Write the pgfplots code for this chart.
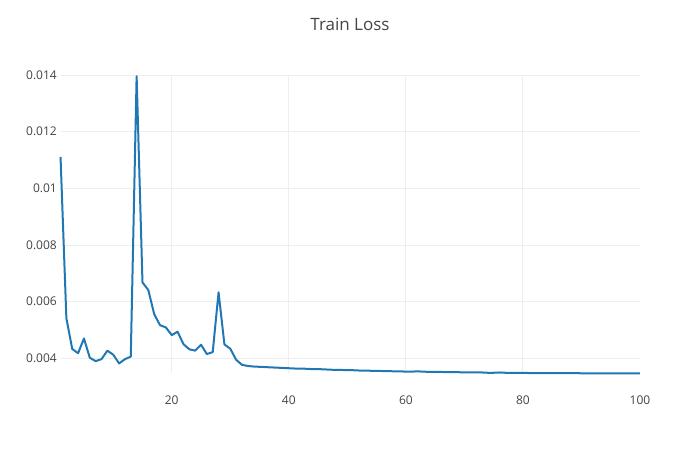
\documentclass[border=0pt]{standalone}
\usepackage{fontspec}
\setmainfont{Open Sans}
\usepackage{pgfplots}
\pgfplotsset{compat=1.18}
\definecolor{plotblue}{HTML}{1F77B4}
\definecolor{txt}{HTML}{444444}
\definecolor{gridc}{HTML}{EEEEEE}
\begin{document}
\begin{tikzpicture}[x=1pt,y=1pt]
\path[use as bounding box] (0,0) rectangle (525,337.5);
\node[anchor=base, text=txt, font=\fontsize{12.75}{15}\selectfont] at (262.5,314.6) {Train Loss};
\begin{axis}[
  at={(45.4pt,57.5pt)}, anchor=south west,
  scale only axis, width=434.6pt, height=223.7pt,
  xmin=1, xmax=100, ymin=0.00347, ymax=0.0140,
  axis line style={draw=none},
  xtick={20,40,60,80}, extra x ticks={100},
  extra x tick style={grid=none},
  ytick={0.004,0.006,0.008,0.010,0.012,0.014},
  yticklabels={0.004,0.006,0.008,0.01,0.012,0.014},
  scaled y ticks=false,
  xmajorgrids, ymajorgrids,
  major grid style={draw=gridc, line width=0.75pt},
  major tick length=0pt,
  /pgf/number format/assume math mode=true,
  tick label style={font=\fontsize{9}{11}\selectfont, text=txt},
  yticklabel style={anchor=east, inner sep=0pt, xshift=-2.6pt},
  xticklabel style={anchor=north, inner sep=0pt, yshift=-16.3pt},
  clip=false,
]
\addplot[plotblue, line width=1.5pt, line join=round, mark=none] table {
x y
1 0.01111
2 0.00541
3 0.00433
4 0.00418
5 0.00470
6 0.00402
7 0.00390
8 0.00397
9 0.00427
10 0.00413
11 0.00382
12 0.00397
13 0.00406
14 0.01396
15 0.00668
16 0.00641
17 0.00556
18 0.00517
19 0.00509
20 0.00482
21 0.00494
22 0.00450
23 0.00432
24 0.00427
25 0.00448
26 0.00415
27 0.00422
28 0.00633
29 0.00449
30 0.00434
31 0.00395
32 0.00377
33 0.00373
34 0.00371
35 0.00370
36 0.00369
37 0.00368
38 0.00367
39 0.00366
40 0.00365
41 0.00364
42 0.00364
43 0.00363
44 0.00362
45 0.00362
46 0.00361
47 0.00360
48 0.00359
49 0.00359
50 0.00358
51 0.00358
52 0.00357
53 0.00357
54 0.00356
55 0.00356
56 0.00355
57 0.00355
58 0.00354
59 0.00354
60 0.00353
61 0.00353
62 0.00354
63 0.00353
64 0.00352
65 0.00352
66 0.00352
67 0.00351
68 0.00351
69 0.00351
70 0.00350
71 0.00350
72 0.00350
73 0.00350
74 0.00349
75 0.00349
76 0.00350
77 0.00349
78 0.00349
79 0.00349
80 0.00349
81 0.00348
82 0.00348
83 0.00348
84 0.00348
85 0.00348
86 0.00348
87 0.00348
88 0.00348
89 0.00348
90 0.00347
91 0.00347
92 0.00347
93 0.00347
94 0.00347
95 0.00347
96 0.00347
97 0.00347
98 0.00347
99 0.00347
100 0.00347
};
\end{axis}
\end{tikzpicture}
\end{document}
